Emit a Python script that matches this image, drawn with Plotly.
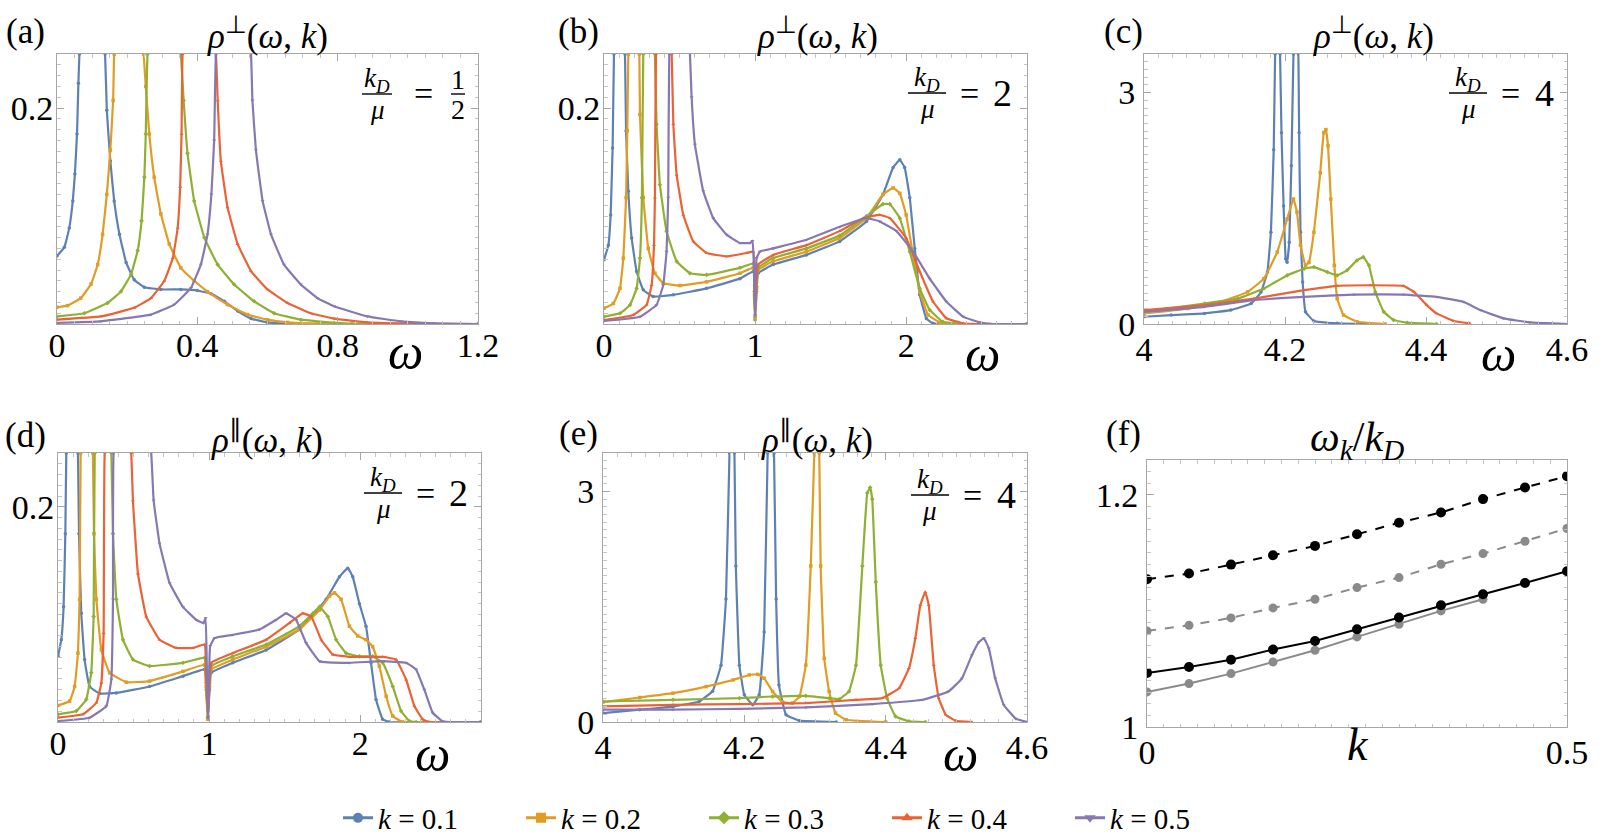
import plotly.graph_objects as go

# ---------------- data ----------------
K_LABELS = ["0.1", "0.2", "0.3", "0.4", "0.5"]
COLORS = ["#5E81B5", "#E19C24", "#8FB032", "#EB6235", "#8778B3"]
SYMBOLS = ["circle", "square", "diamond", "triangle-up", "triangle-down"]

# panel (a): rho_perp, kD/mu = 1/2
A1_W = [0, 0.021, 0.035, 0.045, 0.051, 0.057, 0.061, 0.064, 0.10, 0.137, 0.142, 0.152, 0.163, 0.178, 0.197, 0.22, 0.249, 0.296, 0.353, 0.40, 0.439, 0.477, 0.515, 0.553, 0.60, 0.657, 0.75, 1.2]
A1_R = [0.063, 0.071, 0.089, 0.114, 0.139, 0.176, 0.223, 0.25, 0.40, 0.25, 0.198, 0.151, 0.114, 0.083, 0.057, 0.041, 0.034, 0.032, 0.032, 0.031, 0.028, 0.021, 0.012, 0.005, 0.0015, 0.0003, 0, 0]
A2_W = [0, 0.03, 0.068, 0.097, 0.116, 0.13, 0.142, 0.152, 0.16, 0.163, 0.205, 0.247, 0.253, 0.263, 0.277, 0.296, 0.32, 0.353, 0.391, 0.429, 0.486, 0.543, 0.60, 0.657, 0.742, 0.84, 1.0]
A2_R = [0.0155, 0.017, 0.024, 0.037, 0.055, 0.083, 0.12, 0.161, 0.207, 0.25, 0.4, 0.25, 0.22, 0.176, 0.136, 0.102, 0.074, 0.052, 0.040, 0.030, 0.018, 0.0087, 0.004, 0.0015, 0.0003, 0, 0]
A3_W = [0, 0.078, 0.144, 0.182, 0.211, 0.23, 0.241, 0.249, 0.253, 0.258, 0.305, 0.353, 0.361, 0.372, 0.391, 0.42, 0.458, 0.505, 0.562, 0.619, 0.695, 0.79, 0.885, 1.2]
A3_R = [0.007, 0.010, 0.0195, 0.030, 0.046, 0.068, 0.0955, 0.136, 0.176, 0.25, 0.4, 0.25, 0.207, 0.158, 0.114, 0.08, 0.055, 0.0366, 0.021, 0.010, 0.004, 0.001, 0, 0]
A4_W = [0, 0.125, 0.22, 0.268, 0.306, 0.33, 0.344, 0.351, 0.355, 0.358, 0.405, 0.453, 0.458, 0.467, 0.486, 0.515, 0.553, 0.60, 0.657, 0.723, 0.79, 0.885, 1.03, 1.2]
A4_R = [0.004, 0.007, 0.015, 0.024, 0.04, 0.061, 0.089, 0.127, 0.176, 0.25, 0.4, 0.25, 0.207, 0.151, 0.108, 0.074, 0.049, 0.032, 0.0195, 0.010, 0.005, 0.0015, 0.0003, 0]
A5_W = [0, 0.125, 0.268, 0.334, 0.382, 0.41, 0.429, 0.44, 0.448, 0.453, 0.503, 0.553, 0.557, 0.567, 0.586, 0.61, 0.647, 0.695, 0.742, 0.79, 0.885, 0.98, 1.075, 1.2]
A5_R = [0.001, 0.0025, 0.0087, 0.018, 0.0335, 0.055, 0.083, 0.12, 0.17, 0.25, 0.4, 0.25, 0.207, 0.161, 0.114, 0.083, 0.055, 0.0366, 0.024, 0.0164, 0.007, 0.0025, 0.0006, 0]

# panel (b): rho_perp, kD/mu = 2
B1_W = [0, 0.029, 0.044, 0.057, 0.066, 0.10, 0.139, 0.146, 0.161, 0.183, 0.216, 0.26, 0.326, 0.459, 0.679, 0.90, 0.988, 0.996, 1.0, 1.01, 1.02, 1.12, 1.34, 1.56, 1.737, 1.847, 1.914, 1.958, 1.99, 2.024, 2.057, 2.09, 2.134, 2.178, 2.8]
B1_R = [0.0595, 0.073, 0.101, 0.163, 0.25, 0.4, 0.25, 0.179, 0.123, 0.0796, 0.0486, 0.0316, 0.0254, 0.027, 0.033, 0.042, 0.0486, 0.024, 0.004, 0.030, 0.047, 0.055, 0.064, 0.0765, 0.095, 0.12, 0.145, 0.152, 0.145, 0.117, 0.070, 0.027, 0.005, 0.0006, 0]
B2_W = [0, 0.062, 0.106, 0.128, 0.146, 0.154, 0.161, 0.197, 0.234, 0.238, 0.26, 0.293, 0.337, 0.392, 0.503, 0.679, 0.90, 0.988, 0.996, 1.0, 1.01, 1.02, 1.12, 1.34, 1.56, 1.737, 1.847, 1.914, 1.958, 2.0, 2.046, 2.09, 2.145, 2.222, 2.31, 2.8]
B2_R = [0.0146, 0.019, 0.033, 0.061, 0.117, 0.179, 0.25, 0.4, 0.25, 0.194, 0.117, 0.070, 0.047, 0.0378, 0.0356, 0.039, 0.047, 0.052, 0.027, 0.005, 0.033, 0.050, 0.058, 0.067, 0.0796, 0.098, 0.12, 0.126, 0.121, 0.101, 0.064, 0.030, 0.0084, 0.0015, 0, 0]
B3_W = [0, 0.106, 0.172, 0.216, 0.238, 0.251, 0.26, 0.30, 0.337, 0.348, 0.37, 0.414, 0.481, 0.569, 0.679, 0.90, 0.988, 0.996, 1.0, 1.01, 1.02, 1.12, 1.34, 1.56, 1.737, 1.847, 1.892, 1.958, 2.024, 2.09, 2.156, 2.244, 2.354, 2.8]
B3_R = [0.0068, 0.0099, 0.0177, 0.033, 0.061, 0.117, 0.25, 0.4, 0.25, 0.185, 0.129, 0.0858, 0.058, 0.047, 0.0455, 0.052, 0.056, 0.030, 0.0068, 0.0347, 0.052, 0.061, 0.070, 0.082, 0.0998, 0.111, 0.111, 0.098, 0.067, 0.033, 0.013, 0.002, 0, 0]
B4_W = [0, 0.194, 0.282, 0.315, 0.331, 0.337, 0.344, 0.395, 0.448, 0.459, 0.481, 0.525, 0.591, 0.679, 0.811, 0.944, 0.988, 0.996, 1.0, 1.01, 1.02, 1.12, 1.34, 1.56, 1.715, 1.825, 1.892, 2.0, 2.09, 2.178, 2.266, 2.377, 2.44, 2.8]
B4_R = [0.0037, 0.0084, 0.0177, 0.036, 0.073, 0.117, 0.25, 0.4, 0.25, 0.185, 0.138, 0.101, 0.0765, 0.0657, 0.0626, 0.0657, 0.067, 0.036, 0.0084, 0.039, 0.055, 0.064, 0.073, 0.086, 0.098, 0.101, 0.098, 0.0796, 0.0486, 0.0208, 0.0053, 0.0006, 0, 0]
B5_W = [0, 0.238, 0.348, 0.392, 0.414, 0.425, 0.432, 0.50, 0.569, 0.58, 0.602, 0.657, 0.723, 0.811, 0.90, 0.966, 0.983, 0.992, 1.0, 1.01, 1.032, 1.12, 1.34, 1.56, 1.737, 1.825, 1.936, 2.046, 2.156, 2.266, 2.377, 2.487, 2.575, 2.8]
B5_R = [0.0028, 0.0068, 0.0177, 0.036, 0.067, 0.117, 0.25, 0.4, 0.25, 0.21, 0.166, 0.123, 0.098, 0.0827, 0.075, 0.075, 0.077, 0.055, 0.0084, 0.061, 0.067, 0.070, 0.078, 0.090, 0.098, 0.095, 0.086, 0.067, 0.042, 0.0208, 0.0068, 0.0015, 0, 0]

# panel (c): rho_perp, kD/mu = 4
C1_W = [4.0, 4.0386, 4.0857, 4.123, 4.152, 4.166, 4.175, 4.18, 4.184, 4.186, 4.19, 4.193, 4.195, 4.198, 4.201, 4.203, 4.206, 4.209, 4.212, 4.2155, 4.219, 4.22, 4.222, 4.225, 4.229, 4.241, 4.274, 4.321]
C1_R = [0.094, 0.116, 0.137, 0.18, 0.266, 0.416, 0.674, 1.19, 2.26, 3.5, 4.5, 3.5, 2.48, 1.53, 0.846, 0.80, 1.06, 2.05, 3.5, 4.5, 3.5, 2.48, 1.19, 0.545, 0.159, 0.039, 0.0086, 0]
C2_W = [4.0, 4.062, 4.109, 4.147, 4.17, 4.189, 4.203, 4.212, 4.217, 4.222, 4.229, 4.234, 4.241, 4.25, 4.255, 4.258, 4.261, 4.265, 4.27, 4.274, 4.283, 4.302, 4.342]
C2_R = [0.137, 0.20, 0.288, 0.416, 0.588, 0.932, 1.36, 1.62, 1.45, 1.02, 0.76, 0.80, 1.19, 1.96, 2.48, 2.52, 2.31, 1.62, 0.76, 0.33, 0.116, 0.03, 0]
C3_W = [4.0, 4.086, 4.133, 4.17, 4.203, 4.227, 4.241, 4.26, 4.274, 4.288, 4.302, 4.311, 4.319, 4.328, 4.34, 4.354, 4.373, 4.415]
C3_R = [0.159, 0.266, 0.33, 0.46, 0.63, 0.717, 0.738, 0.674, 0.63, 0.696, 0.824, 0.867, 0.76, 0.416, 0.159, 0.052, 0.017, 0]
C4_W = [4.0, 4.086, 4.156, 4.227, 4.274, 4.321, 4.368, 4.383, 4.401, 4.415, 4.439, 4.462]
C4_R = [0.18, 0.245, 0.33, 0.438, 0.494, 0.502, 0.494, 0.416, 0.245, 0.137, 0.039, 0.0086]
C5_W = [4.0, 4.086, 4.156, 4.227, 4.298, 4.368, 4.415, 4.453, 4.477, 4.51, 4.547, 4.6]
C5_R = [0.159, 0.223, 0.309, 0.352, 0.382, 0.382, 0.352, 0.288, 0.18, 0.073, 0.021, 0]

# panel (d): rho_parallel, kD/mu = 2
D1_W = [0, 0.022, 0.037, 0.0485, 0.055, 0.093, 0.132, 0.139, 0.154, 0.176, 0.209, 0.276, 0.386, 0.606, 0.827, 0.97, 0.981, 0.992, 1.003, 1.014, 1.157, 1.378, 1.598, 1.775, 1.863, 1.918, 1.951, 1.995, 2.039, 2.072, 2.105, 2.149, 2.194, 2.8]
D1_R = [0.061, 0.0765, 0.107, 0.175, 0.25, 0.4, 0.25, 0.175, 0.101, 0.058, 0.033, 0.0265, 0.027, 0.033, 0.0426, 0.0488, 0.030, 0.0025, 0.030, 0.0457, 0.055, 0.067, 0.086, 0.114, 0.135, 0.143, 0.135, 0.110, 0.089, 0.055, 0.021, 0.0025, 0, 0]
D2_W = [0, 0.077, 0.11, 0.132, 0.143, 0.15, 0.19, 0.231, 0.238, 0.254, 0.287, 0.342, 0.452, 0.606, 0.827, 0.97, 0.981, 0.992, 1.003, 1.014, 1.157, 1.378, 1.598, 1.731, 1.797, 1.83, 1.874, 1.929, 1.984, 2.039, 2.083, 2.127, 2.172, 2.216, 2.282, 2.8]
D2_R = [0.0154, 0.0194, 0.033, 0.064, 0.114, 0.25, 0.4, 0.25, 0.175, 0.114, 0.067, 0.0457, 0.037, 0.038, 0.047, 0.053, 0.033, 0.0025, 0.033, 0.049, 0.058, 0.070, 0.086, 0.104, 0.117, 0.120, 0.114, 0.089, 0.080, 0.0765, 0.070, 0.052, 0.024, 0.0056, 0, 0]
D3_W = [0, 0.121, 0.187, 0.22, 0.236, 0.243, 0.30, 0.353, 0.364, 0.386, 0.43, 0.496, 0.606, 0.827, 0.97, 0.981, 0.992, 1.003, 1.014, 1.157, 1.378, 1.598, 1.687, 1.731, 1.786, 1.841, 1.907, 1.995, 2.083, 2.149, 2.216, 2.271, 2.326, 2.37, 2.8]
D3_R = [0.0071, 0.0102, 0.021, 0.0457, 0.098, 0.25, 0.4, 0.25, 0.175, 0.114, 0.0765, 0.058, 0.052, 0.055, 0.0596, 0.0364, 0.004, 0.0364, 0.052, 0.061, 0.072, 0.089, 0.101, 0.107, 0.098, 0.0765, 0.064, 0.061, 0.061, 0.055, 0.033, 0.0102, 0.0009, 0, 0]
D4_W = [0, 0.165, 0.254, 0.287, 0.302, 0.309, 0.40, 0.485, 0.496, 0.529, 0.584, 0.672, 0.783, 0.893, 0.97, 0.981, 0.992, 1.003, 1.014, 1.157, 1.378, 1.532, 1.62, 1.676, 1.742, 1.819, 1.929, 2.149, 2.238, 2.304, 2.359, 2.414, 2.458, 2.8]
D4_R = [0.004, 0.0071, 0.0179, 0.0364, 0.0827, 0.25, 0.4, 0.25, 0.206, 0.138, 0.098, 0.0765, 0.0688, 0.0688, 0.072, 0.0395, 0.0056, 0.0395, 0.055, 0.064, 0.0765, 0.092, 0.101, 0.098, 0.0765, 0.0627, 0.0605, 0.0605, 0.058, 0.0395, 0.0148, 0.0025, 0, 0]
D5_W = [0, 0.209, 0.32, 0.353, 0.364, 0.368, 0.49, 0.617, 0.633, 0.672, 0.739, 0.827, 0.915, 0.963, 0.977, 0.985, 0.994, 1.007, 1.036, 1.157, 1.334, 1.444, 1.51, 1.576, 1.642, 1.731, 1.929, 2.149, 2.304, 2.37, 2.425, 2.48, 2.546, 2.59, 2.8]
D5_R = [0.0009, 0.004, 0.0148, 0.0395, 0.114, 0.25, 0.4, 0.25, 0.206, 0.166, 0.129, 0.107, 0.095, 0.092, 0.0966, 0.052, 0.004, 0.0704, 0.078, 0.081, 0.086, 0.095, 0.101, 0.095, 0.0735, 0.0565, 0.055, 0.0565, 0.055, 0.0488, 0.030, 0.0086, 0.0006, 0, 0]

# panel (e): rho_parallel, kD/mu = 4
E1_W = [4.0, 4.052, 4.099, 4.136, 4.155, 4.167, 4.174, 4.179, 4.1825, 4.186, 4.188, 4.193, 4.2, 4.212, 4.221, 4.228, 4.233, 4.2375, 4.242, 4.245, 4.249, 4.259, 4.278, 4.33]
E1_R = [0.116, 0.16, 0.20, 0.267, 0.40, 0.74, 1.6, 3.5, 4.5, 3.5, 2.03, 0.74, 0.353, 0.224, 0.353, 1.17, 3.5, 4.5, 3.5, 1.6, 0.48, 0.095, 0.017, 0]
E2_W = [4.0, 4.052, 4.099, 4.146, 4.184, 4.207, 4.219, 4.228, 4.24, 4.254, 4.268, 4.278, 4.287, 4.294, 4.299, 4.3025, 4.306, 4.308, 4.313, 4.32, 4.329, 4.344, 4.40]
E2_R = [0.259, 0.319, 0.375, 0.46, 0.547, 0.612, 0.62, 0.569, 0.397, 0.259, 0.246, 0.332, 0.74, 2.03, 3.5, 4.5, 3.5, 2.03, 0.83, 0.397, 0.116, 0.03, 0]
E3_W = [4.0, 4.099, 4.193, 4.24, 4.287, 4.32, 4.334, 4.348, 4.358, 4.367, 4.374, 4.378, 4.381, 4.386, 4.393, 4.402, 4.414, 4.433, 4.456]
E3_R = [0.267, 0.289, 0.31, 0.332, 0.34, 0.31, 0.297, 0.397, 0.74, 2.03, 2.98, 3.05, 2.9, 1.82, 0.74, 0.31, 0.073, 0.0086, 0]
E4_W = [4.0, 4.099, 4.193, 4.287, 4.358, 4.395, 4.419, 4.433, 4.442, 4.449, 4.456, 4.461, 4.468, 4.475, 4.485, 4.499, 4.522]
E4_R = [0.203, 0.224, 0.233, 0.246, 0.289, 0.31, 0.44, 0.70, 1.09, 1.52, 1.69, 1.52, 0.74, 0.31, 0.095, 0.017, 0]
E5_W = [4.0, 4.099, 4.193, 4.287, 4.381, 4.452, 4.489, 4.508, 4.522, 4.532, 4.539, 4.546, 4.555, 4.567, 4.584, 4.6]
E5_R = [0.16, 0.16, 0.172, 0.19, 0.233, 0.289, 0.397, 0.569, 0.87, 1.04, 1.09, 0.957, 0.569, 0.224, 0.043, 0]

# panel (f): omega_k / k_D versus k
F_K = [0, 0.05, 0.1, 0.15, 0.2, 0.25, 0.3, 0.35, 0.4, 0.45, 0.5]
F_BLACK_DASH = [1.1273, 1.1322, 1.1399, 1.148, 1.156, 1.166, 1.176, 1.1848, 1.1963, 1.2063, 1.2161]
F_GRAY_DASH = [1.0828, 1.0876, 1.094, 1.1026, 1.11, 1.1201, 1.1287, 1.1402, 1.1494, 1.16, 1.171]
F_BLACK = [1.0466, 1.0517, 1.058, 1.0667, 1.0741, 1.0842, 1.0943, 1.1049, 1.1144, 1.1241, 1.1342]
F_GRAY_K = [0, 0.05, 0.1, 0.15, 0.2, 0.25, 0.3, 0.35, 0.4]
F_GRAY = [1.0302, 1.0374, 1.046, 1.056, 1.0661, 1.0776, 1.0885, 1.1, 1.11]

PANELS = {
    "a": [(A1_W, A1_R), (A2_W, A2_R), (A3_W, A3_R), (A4_W, A4_R), (A5_W, A5_R)],
    "b": [(B1_W, B1_R), (B2_W, B2_R), (B3_W, B3_R), (B4_W, B4_R), (B5_W, B5_R)],
    "c": [(C1_W, C1_R), (C2_W, C2_R), (C3_W, C3_R), (C4_W, C4_R), (C5_W, C5_R)],
    "d": [(D1_W, D1_R), (D2_W, D2_R), (D3_W, D3_R), (D4_W, D4_R), (D5_W, D5_R)],
    "e": [(E1_W, E1_R), (E2_W, E2_R), (E3_W, E3_R), (E4_W, E4_R), (E5_W, E5_R)],
}

# ---------------- layout helpers ----------------
W, H = 1611, 837
SERIF = "Liberation Serif"


def px(x):
    return x / W


def py(y):
    return 1 - y / H


# pixel boxes of the six frames: (left, right, top, bottom)
BOX = {
    "a": (57, 478, 54, 324),
    "b": (604, 1027, 54, 324),
    "c": (1144, 1567, 54, 324),
    "d": (58, 481, 453, 722),
    "e": (603, 1027, 453, 722),
    "f": (1147, 1567, 460, 727),
}
AXN = {"a": 1, "b": 2, "c": 3, "d": 4, "e": 5, "f": 6}

XSPEC = {
    "a": ([0, 1.2], [0, 0.4, 0.8, 1.2], ["0", "0.4", "0.8", "1.2"], 0.05),
    "b": ([0, 2.8], [0, 1, 2], ["0", "1", "2"], 0.1),
    "c": ([4, 4.6], [4, 4.2, 4.4, 4.6], ["4", "4.2", "4.4", "4.6"], 0.02),
    "d": ([0, 2.8], [0, 1, 2], ["0", "1", "2"], 0.1),
    "e": ([4, 4.6], [4, 4.2, 4.4, 4.6], ["4", "4.2", "4.4", "4.6"], 0.02),
    "f": ([0, 0.5], [0, 0.5], ["0", "0.5"], 0.02),
}
YSPEC = {
    "a": ([0, 0.25], [0.2], ["0.2"], 0.01),
    "b": ([0, 0.25], [0.2], ["0.2"], 0.01),
    "c": ([0, 3.5], [0, 3], ["0", "3"], 0.1),
    "d": ([0, 0.25], [0.2], ["0.2"], 0.01),
    "e": ([0, 3.5], [0, 3], ["0", "3"], 0.1),
    "f": ([1.0, 1.23], [1.0, 1.2], ["1", "1.2"], 0.01),
}
# label standoffs (x, y): panels whose y labels start at the bottom corner keep them apart
STANDOFF = {"a": (-9, -4), "b": (-9, -4), "d": (-9, -4),
            "c": (-5, 1), "e": (-5, 1), "f": (-5, 1)}

FRAME = "#a6a6a6"
TICKSIZE = 34


def make_axis(domain, spec, anchor, standoff):
    rng, tv, tt, mdt = spec
    return dict(
        domain=domain, range=rng, tickmode="array", tickvals=tv, ticktext=tt,
        ticks="inside", ticklen=7, tickwidth=1, tickcolor=FRAME,
        showline=True, linecolor=FRAME, linewidth=1, mirror="allticks",
        showgrid=False, zeroline=False, anchor=anchor, fixedrange=True,
        ticklabelstandoff=standoff, automargin=False,
        tickfont=dict(family=SERIF, size=TICKSIZE, color="black"),
        minor=dict(ticks="inside", ticklen=3.5, tickwidth=1, tickcolor="#c4c4c4",
                   dtick=mdt, tick0=rng[0], showgrid=False),
    )


fig = go.Figure()
layout = {}
for key, (l, r, t, b) in BOX.items():
    n = AXN[key]
    xs = "" if n == 1 else str(n)
    sx, sy = STANDOFF[key]
    layout["xaxis" + xs] = make_axis([px(l), px(r)], XSPEC[key], "y" + xs, sx)
    layout["yaxis" + xs] = make_axis([py(b), py(t)], YSPEC[key], "x" + xs, sy)

# spectral curves
for key, series in PANELS.items():
    n = AXN[key]
    xs = "" if n == 1 else str(n)
    for i, (wv, rv) in enumerate(series):
        fig.add_trace(go.Scatter(
            x=wv, y=rv, mode="lines+markers", xaxis="x" + xs, yaxis="y" + xs,
            line=dict(color=COLORS[i], width=2.2, shape="spline", smoothing=0.3),
            marker=dict(color=COLORS[i], size=3.5, symbol=SYMBOLS[i]),
            showlegend=False, hoverinfo="skip",
        ))

# panel f
F_STYLES = [
    (F_K, F_BLACK_DASH, "black", "dash", 10),
    (F_K, F_GRAY_DASH, "#8a8a8a", "dash", 9),
    (F_GRAY_K, F_GRAY, "#8a8a8a", "solid", 9),
    (F_K, F_BLACK, "black", "solid", 10),
]
for kx, vy, col, dash, ms in F_STYLES:
    fig.add_trace(go.Scatter(
        x=kx, y=vy, mode="lines+markers", xaxis="x6", yaxis="y6",
        line=dict(color=col, width=2, dash=dash),
        marker=dict(color=col, size=ms, symbol="circle"),
        showlegend=False, hoverinfo="skip",
    ))

# legend entries
for i, lab in enumerate(K_LABELS):
    fig.add_trace(go.Scatter(
        x=[None], y=[None], mode="lines+markers", xaxis="x", yaxis="y",
        line=dict(color=COLORS[i], width=3),
        marker=dict(color=COLORS[i], size=10, symbol=SYMBOLS[i]),
        name="<i>k</i> = " + lab, showlegend=True,
    ))

ann = []


def text(x, y, s, size, xanchor="center"):
    ann.append(dict(x=px(x), y=py(y), xref="paper", yref="paper", text=s,
                    showarrow=False, xanchor=xanchor, yanchor="middle",
                    font=dict(family=SERIF, size=size, color="black")))


shapes = []


def frac(xc, yc, num, den, half, size):
    text(xc, yc - 14, num, size)
    text(xc, yc + 16, den, size)
    shapes.append(dict(type="line", xref="paper", yref="paper",
                       x0=px(xc - half), x1=px(xc + half), y0=py(yc), y1=py(yc),
                       line=dict(color="black", width=1.4)))


# panel tags
for tag, (x, y) in {"(a)": (25, 32), "(b)": (578, 32), "(c)": (1123, 32),
                    "(d)": (25, 435), "(e)": (578, 433), "(f)": (1123, 433)}.items():
    text(x, y, tag, 35)

PERP = "<i>ρ</i><sup>⊥</sup>(<i>ω</i>, <i>k</i>)"
PAR = "<i>ρ</i><sup>∥</sup>(<i>ω</i>, <i>k</i>)"
text(267, 33, PERP, 35)
text(817, 33, PERP, 35)
text(1373, 33, PERP, 35)
text(267, 437, PAR, 35)
text(817, 437, PAR, 35)
text(1357, 440, "<i>ω<sub>k</sub></i>/<i>k<sub>D</sub></i>", 42)

# axis names
for (x, y) in [(405, 352), (982, 354), (1498, 354), (432, 754), (960, 754)]:
    text(x, y, "<i>ω</i>", 50)
text(1358, 744, "<i>k</i>", 46)

KD = "<i>k<sub>D</sub></i>"
MU = "<i>μ</i>"
# (a) kD/mu = 1/2
frac(377, 94, KD, MU, 15, 27)
text(423, 94, "=", 34)
frac(458, 94, "1", "2", 7, 28)
# (b), (d) = 2 ; (c), (e) = 4
for (xc, yc, val) in [(927, 93, "2"), (383, 493, "2"), (1468, 93, "4"), (930, 495, "4")]:
    frac(xc, yc, KD, MU, 19, 27)
    text(xc + 42, yc, "=", 34)
    text(xc + 76, yc, val, 38)

layout.update(
    width=W, height=H, autosize=False,
    margin=dict(l=0, r=0, t=0, b=0, autoexpand=False),
    paper_bgcolor="white", plot_bgcolor="white",
    font=dict(family=SERIF),
    annotations=ann, shapes=shapes,
    legend=dict(orientation="h", x=px(338), y=py(818), xanchor="left", yanchor="middle",
                font=dict(family=SERIF, size=29, color="black"),
                entrywidth=138, entrywidthmode="pixels", itemwidth=30,
                bgcolor="rgba(0,0,0,0)"),
    showlegend=True,
)
fig.update_layout(**layout)
fig.write_html("out.html")
